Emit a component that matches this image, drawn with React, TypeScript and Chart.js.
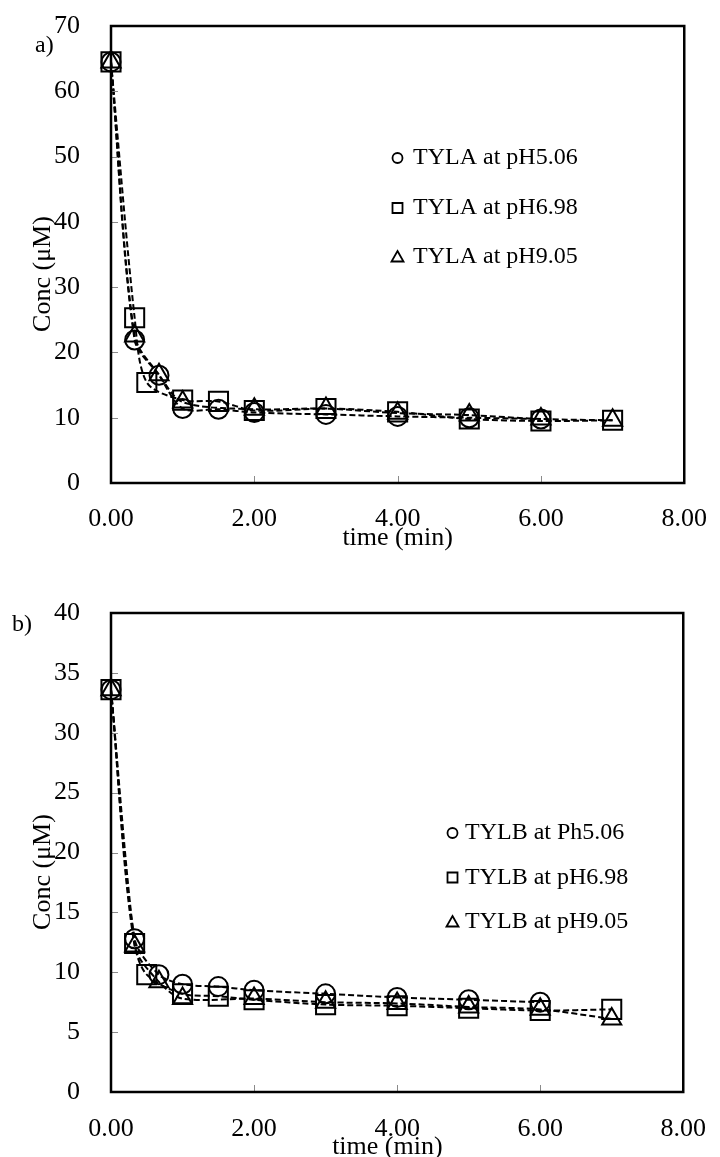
import React, { useEffect, useRef } from "react";
import { Chart, registerables } from "chart.js";

Chart.register(...registerables);

const FONT = '"Liberation Serif", "Times New Roman", Times, serif';

// ---------- Panel a) TYLA ----------
const aTimeCircle = [0, 0.33, 0.67, 1, 1.5, 2, 3, 4, 5, 6];
const aCircle = [64.5, 21.9, 16.5, 11.4, 11.3, 10.8, 10.5, 10.2, 10.0, 9.8];
const aTimeSquare = [0, 0.33, 0.5, 1, 1.5, 2, 3, 4, 5, 6, 7];
const aSquare = [64.5, 25.3, 15.4, 12.7, 12.5, 11.1, 11.4, 10.9, 9.8, 9.5, 9.6];
const aTimeTriangle = [0, 0.33, 0.67, 1, 2, 3, 4, 5, 6, 7];
const aTriangle = [64.5, 22.5, 16.6, 12.4, 11.3, 11.4, 10.7, 10.4, 9.8, 9.6];
const aLabels = ["TYLA at pH5.06", "TYLA at pH6.98", "TYLA at pH9.05"];

// ---------- Panel b) TYLB ----------
const bTimeCircle = [0, 0.33, 0.67, 1, 1.5, 2, 3, 4, 5, 6];
const bCircle = [33.6, 12.8, 9.8, 9.0, 8.8, 8.5, 8.2, 7.9, 7.7, 7.5];
const bTimeSquare = [0, 0.33, 0.5, 1, 1.5, 2, 3, 4, 5, 6, 7];
const bSquare = [33.6, 12.4, 9.8, 8.2, 8.0, 7.7, 7.3, 7.2, 7.0, 6.8, 6.9];
const bTimeTriangle = [0, 0.33, 0.67, 1, 2, 3, 4, 5, 6, 7];
const bTriangle = [33.6, 12.2, 9.2, 7.8, 7.8, 7.5, 7.4, 7.1, 6.9, 6.1];
const bLabels = ["TYLB at Ph5.06", "TYLB at pH6.98", "TYLB at pH9.05"];

// axis settings
const xMin = 0;
const xMax = 8;
const xStep = 2;
const aYMax = 70;
const aYStep = 10;
const bYMax = 40;
const bYStep = 5;
const xTitle = "time (min)";
const yTitle = "Conc (\u03BCM)";

const decorPlugin = {
  id: "decor",
  afterDraw(chart: any, _args: any, opts: any) {
    const { ctx, chartArea: ca } = chart;
    const xs = chart.scales.x;
    const ys = chart.scales.y;
    ctx.save();
    // inner tick marks
    ctx.strokeStyle = "#8a8a8a";
    ctx.lineWidth = 1;
    ctx.beginPath();
    ys.ticks.forEach((t: any) => {
      const py = Math.round(ys.getPixelForValue(t.value)) + 0.5;
      ctx.moveTo(ca.left, py);
      ctx.lineTo(ca.left + 7, py);
    });
    xs.ticks.forEach((t: any) => {
      const px = Math.round(xs.getPixelForValue(t.value)) + 0.5;
      ctx.moveTo(px, ca.bottom);
      ctx.lineTo(px, ca.bottom - 7);
    });
    ctx.stroke();
    // frame
    ctx.strokeStyle = "#000";
    ctx.lineWidth = 2.5;
    ctx.strokeRect(ca.left, ca.top, ca.right - ca.left, ca.bottom - ca.top);
    // legend inside plot
    const lg = opts.legend;
    ctx.font = `24px ${FONT}`;
    ctx.textAlign = "left";
    ctx.textBaseline = "middle";
    chart.data.datasets.forEach((ds: any, i: number) => {
      const y = lg.rows[i];
      const mx = lg.markerX;
      ctx.strokeStyle = "#000";
      ctx.lineWidth = 1.8;
      ctx.beginPath();
      if (ds.pointStyle === "circle") {
        ctx.arc(mx, y, 5, 0, Math.PI * 2);
      } else if (ds.pointStyle === "rect") {
        ctx.rect(mx - 5, y - 5, 10, 10);
      } else {
        ctx.moveTo(mx, y - 6);
        ctx.lineTo(mx + 6, y + 4.5);
        ctx.lineTo(mx - 6, y + 4.5);
        ctx.closePath();
      }
      ctx.stroke();
      ctx.fillStyle = "#000";
      ctx.fillText(ds.label, lg.textX, y);
    });
    // panel letter
    ctx.font = `24px ${FONT}`;
    ctx.fillText(opts.panel.text, opts.panel.x, opts.panel.y);
    ctx.restore();
  },
};

function makeDataset(label: string, xs: number[], ys: number[], style: string, radius: number) {
  return {
    label,
    data: xs.map((x, i) => ({ x, y: ys[i] })),
    showLine: true,
    borderColor: "#000",
    borderWidth: 2,
    borderDash: [6, 3],
    tension: 0.3,
    fill: false,
    clip: false,
    pointStyle: style,
    pointRadius: radius,
    pointHoverRadius: radius,
    pointBorderWidth: 2,
    pointBorderColor: "#000",
    pointBackgroundColor: "rgba(0,0,0,0)",
  };
}

function buildConfig(p: any) {
  const tickFont = { family: FONT, size: 26 };
  return {
    type: "scatter",
    data: {
      datasets: [
        makeDataset(p.labels[0], p.tc, p.c, "circle", 9.5),
        makeDataset(p.labels[1], p.ts, p.s, "rect", 13.5),
        makeDataset(p.labels[2], p.tt, p.t, "triangle", 11),
      ],
    },
    options: {
      responsive: false,
      animation: false,
      devicePixelRatio: 1,
      events: [],
      layout: { padding: { left: 0, right: 27, top: p.areaTop, bottom: 0 } },
      plugins: {
        legend: { display: false },
        tooltip: { enabled: false },
        decor: { legend: p.legend, panel: p.panel },
      },
      scales: {
        x: {
          type: "linear",
          min: xMin,
          max: xMax,
          grid: { display: false },
          border: { display: false },
          ticks: {
            stepSize: xStep,
            padding: p.xTickPad,
            color: "#000",
            font: tickFont,
            maxRotation: 0,
            autoSkip: false,
            callback: (v: any) => Number(v).toFixed(2),
          },
          title: {
            display: true,
            text: p.xTitle,
            color: "#000",
            font: tickFont,
            padding: { top: 0, bottom: p.xTitlePad },
          },
          afterFit: (s: any) => {
            s.height = p.xAxisH;
          },
        },
        y: {
          type: "linear",
          min: 0,
          max: p.yMax,
          grid: { display: false },
          border: { display: false },
          ticks: {
            stepSize: p.yStep,
            padding: 23,
            color: "#000",
            font: tickFont,
          },
          title: {
            display: true,
            text: yTitle + "      ",
            color: "#000",
            font: tickFont,
            padding: { top: 28, bottom: 0 },
          },
          afterFit: (s: any) => {
            s.width = 111;
          },
        },
      },
    },
    plugins: [decorPlugin],
  };
}

function ChartCanvas({ config, top, height }: { config: any; top: number; height: number }) {
  const ref = useRef<HTMLCanvasElement>(null);
  useEffect(() => {
    const chart = new Chart(ref.current as HTMLCanvasElement, config);
    return () => chart.destroy();
  }, []);
  return (
    <canvas
      ref={ref}
      width={720}
      height={height}
      style={{ position: "absolute", left: 0, top, width: 720, height }}
    />
  );
}

export default function App() {
  // top canvas is shifted up by 14px so its plot area can start at page y=26
  const cfgA = buildConfig({
    labels: aLabels,
    tc: aTimeCircle, c: aCircle,
    ts: aTimeSquare, s: aSquare,
    tt: aTimeTriangle, t: aTriangle,
    yMax: aYMax, yStep: aYStep,
    areaTop: 40, xAxisH: 77, xTickPad: 13, xTitlePad: 6,
    xTitle: xTitle,
    legend: { markerX: 397.5, textX: 413, rows: [172, 222, 271] },
    panel: { text: "a)", x: 35, y: 60 },
  });
  const cfgB = buildConfig({
    labels: bLabels,
    tc: bTimeCircle, c: bCircle,
    ts: bTimeSquare, s: bSquare,
    tt: bTimeTriangle, t: bTriangle,
    yMax: bYMax, yStep: bYStep,
    areaTop: 53, xAxisH: 88, xTickPad: 14, xTitlePad: 17,
    xTitle: xTitle + "   ",
    legend: { markerX: 452.5, textX: 465, rows: [273, 317.5, 362] },
    panel: { text: "b)", x: 12, y: 65 },
  });
  return (
    <div
      style={{
        position: "absolute",
        left: 0,
        top: 0,
        width: 720,
        height: 1157,
        overflow: "hidden",
        background: "#fff",
      }}
    >
      <ChartCanvas config={cfgA} top={-14} height={574} />
      <ChartCanvas config={cfgB} top={560} height={620} />
    </div>
  );
}
